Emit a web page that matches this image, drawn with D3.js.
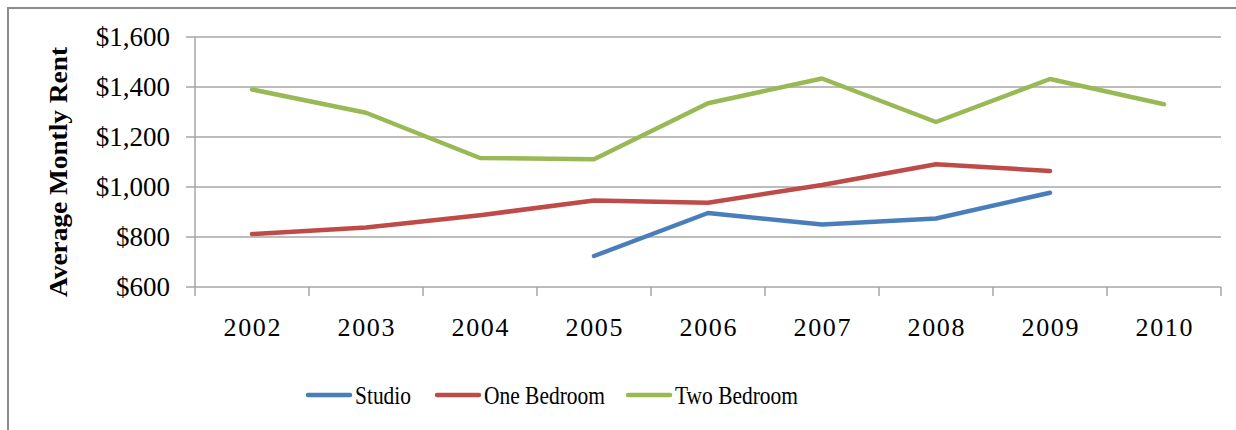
<!DOCTYPE html>
<html>
<head>
<meta charset="utf-8">
<script src="https://cdn.jsdelivr.net/npm/d3@7"></script>
<style>
  body { margin: 0; background: #fff; }
  svg { display: block; }
</style>
</head>
<body>
<script>
// data
const years = ["2002", "2003", "2004", "2005", "2006", "2007", "2008", "2009", "2010"];
const studio = [null, null, null, 724, 896, 850, 874, 977, null];
const oneBedroom = [812, 838, 887, 946, 937, 1008, 1091, 1064, null];
const twoBedroom = [1390, 1297, 1116, 1111, 1335, 1434, 1260, 1432, 1331];
const yTicks = [600, 800, 1000, 1200, 1400, 1600];

const series = [
  { name: "Studio", values: studio, color: "#4a7ebb" },
  { name: "One Bedroom", values: oneBedroom, color: "#be4b48" },
  { name: "Two Bedroom", values: twoBedroom, color: "#98b954" }
];

const width = 1236, height = 430;
const plotLeft = 195, plotRight = 1221, plotTop = 37, plotBottom = 287;
const font = "'Liberation Serif', 'DejaVu Serif', serif";

const svg = d3.select("body").append("svg")
  .attr("width", width)
  .attr("height", height);

// outer chart frame (cut off at right and bottom)
svg.append("rect")
  .attr("x", 8).attr("y", 8)
  .attr("width", width + 20).attr("height", height + 20)
  .attr("fill", "#fff")
  .attr("stroke", "#8c8c8c")
  .attr("stroke-width", 2);

const x = d3.scaleBand().domain(years).range([plotLeft, plotRight]).padding(0);
const y = d3.scaleLinear().domain([600, 1600]).range([plotBottom, plotTop]);

// gridlines + y ticks
svg.append("g")
  .selectAll("line")
  .data(yTicks)
  .join("line")
  .attr("x1", plotLeft - 9)
  .attr("x2", plotRight)
  .attr("y1", d => y(d))
  .attr("y2", d => y(d))
  .attr("stroke", "#a6a6a6")
  .attr("stroke-width", 1.5);

// y axis line
svg.append("line")
  .attr("x1", plotLeft).attr("x2", plotLeft)
  .attr("y1", plotTop).attr("y2", plotBottom)
  .attr("stroke", "#a6a6a6")
  .attr("stroke-width", 1.5);

// x axis ticks at category edges
const edges = years.map(d => x(d)).concat([plotRight]);
svg.append("g")
  .selectAll("line")
  .data(edges)
  .join("line")
  .attr("x1", d => d).attr("x2", d => d)
  .attr("y1", plotBottom).attr("y2", plotBottom + 9)
  .attr("stroke", "#a6a6a6")
  .attr("stroke-width", 1.5);

// y tick labels
svg.append("g")
  .selectAll("text")
  .data(yTicks)
  .join("text")
  .attr("x", plotLeft - 25)
  .attr("y", d => y(d))
  .attr("dy", "0.35em")
  .attr("text-anchor", "end")
  .attr("font-family", font)
  .attr("font-size", 27)
  .attr("fill", "#000")
  .text(d => d3.format("$,")(d));

// x tick labels
svg.append("g")
  .selectAll("text")
  .data(years)
  .join("text")
  .attr("x", d => x(d) + x.bandwidth() / 2)
  .attr("y", 336)
  .attr("text-anchor", "middle")
  .attr("font-family", font)
  .attr("font-size", 26)
  .attr("textLength", 57)
  .attr("lengthAdjust", "spacing")
  .attr("fill", "#000")
  .text(d => d);

// y axis title
svg.append("text")
  .attr("transform", "translate(67,172) rotate(-90)")
  .attr("text-anchor", "middle")
  .attr("font-family", font)
  .attr("font-weight", "bold")
  .attr("font-size", 25)
  .attr("textLength", 250)
  .attr("lengthAdjust", "spacingAndGlyphs")
  .text("Average Montly Rent");

// lines
const line = d3.line()
  .defined(d => d != null)
  .x((d, i) => x(years[i]) + x.bandwidth() / 2)
  .y(d => y(d));

svg.append("g")
  .selectAll("path")
  .data(series)
  .join("path")
  .attr("fill", "none")
  .attr("stroke", d => d.color)
  .attr("stroke-width", 4.5)
  .attr("stroke-linejoin", "round")
  .attr("stroke-linecap", "round")
  .attr("d", d => line(d.values));

// legend
const legendX = [308, 437, 628];
const leg = svg.append("g")
  .selectAll("g")
  .data(series)
  .join("g")
  .attr("transform", (d, i) => `translate(${legendX[i]},395)`);

leg.append("line")
  .attr("x1", 0).attr("x2", 42)
  .attr("stroke", d => d.color)
  .attr("stroke-width", 4.5)
  .attr("stroke-linecap", "round");

leg.append("text")
  .attr("x", 47)
  .attr("dy", "0.36em")
  .attr("font-family", font)
  .attr("font-size", 26)
  .attr("fill", "#000")
  .attr("textLength", (d, i) => [56, 121, 123][i])
  .attr("lengthAdjust", "spacingAndGlyphs")
  .text(d => d.name);
</script>
</body>
</html>
